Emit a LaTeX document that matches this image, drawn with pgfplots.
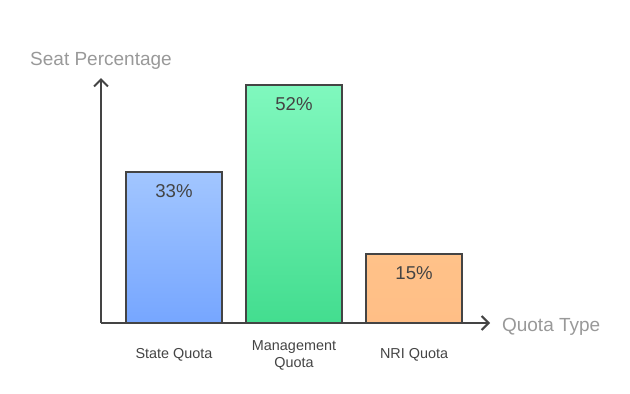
\documentclass[border=0pt]{standalone}
\usepackage{pgfplots}
\pgfplotsset{compat=1.18}
\usepackage{fontspec}
\setmainfont{Liberation Sans}
\usetikzlibrary{arrows.meta}
\definecolor{axisgray}{HTML}{444444}
\definecolor{labgray}{HTML}{999999}
\definecolor{blueT}{HTML}{A2C6FF}
\definecolor{blueB}{HTML}{76A6FF}
\definecolor{greenT}{HTML}{80F8BE}
\definecolor{greenB}{HTML}{43DD8F}
\definecolor{orangeT}{HTML}{FFC289}
\definecolor{orangeB}{HTML}{FFBE86}
\begin{document}
\begin{tikzpicture}
\path[use as bounding box] (0,0) rectangle (315pt,196.5pt);
\begin{axis}[
  at={(50.5pt,35pt)}, anchor=south west,
  scale only axis, width=194.5pt, height=122.5pt,
  xmin=-0.608, xmax=2.633, ymin=0, ymax=53.5,
  axis lines=left,
  axis line style={axisgray, line width=1pt, -{Straight Barb[length=3.5pt,width=7pt,line width=1pt]}},
  ytick=\empty,
  xtick={0,1,2},
  xticklabels={State Quota, Management\\Quota, NRI Quota},
  xticklabel style={align=center, anchor=center, font=\fontsize{7.2}{8.5}\selectfont, text=axisgray, yshift=-16pt},
  major tick length=0pt,
  ybar, bar width=48pt, bar shift=0pt,
  xlabel={Quota Type},
  xlabel style={at={(axis description cs:1.0128,0)}, anchor=west, yshift=-2pt, font=\fontsize{9.5}{11}\selectfont, text=labgray},
  ylabel={Seat Percentage},
  ylabel style={at={(axis description cs:0,1.069)}, anchor=center, rotate=-90, font=\fontsize{9.5}{11}\selectfont, text=labgray},
  /pgf/number format/assume math mode=true,
  nodes near coords={\pgfmathprintnumber{\pgfplotspointmeta}\%},
  every node near coord/.append style={anchor=north, yshift=-2.5pt, font=\fontsize{9.3}{11}\selectfont, text=axisgray},
  clip=false,
]
\addplot[draw=axisgray, line width=1pt, top color=blueT, bottom color=blueB] coordinates {(0,33)};
\addplot[draw=axisgray, line width=1pt, top color=greenT, bottom color=greenB] coordinates {(1,52)};
\addplot[draw=axisgray, line width=1pt, top color=orangeT, bottom color=orangeB] coordinates {(2,15)};
\end{axis}
\end{tikzpicture}
\end{document}
